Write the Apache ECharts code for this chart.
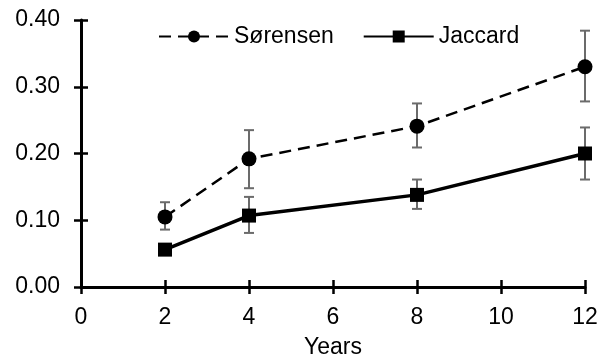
<!DOCTYPE html>
<html lang="en">
<head>
    <meta charset="UTF-8">
    <title>Sørensen / Jaccard</title>
    <style>
        html, body {
            margin: 0;
            padding: 0;
            background: #fff;
        }

        #main {
            width: 599px;
            height: 359px;
        }
    </style>
</head>
<body>
<div id="main"></div>
<script src="https://cdn.jsdelivr.net/npm/echarts@6/dist/echarts.min.js"></script>
<script>
    var years = [2, 4, 8, 12];
    var sorensen = [0.105, 0.192, 0.241, 0.330];
    var sorensenLow = [0.086, 0.148, 0.209, 0.278];
    var sorensenHigh = [0.127, 0.235, 0.275, 0.384];
    var jaccard = [0.056, 0.107, 0.138, 0.200];
    var jaccardLow = [0.049, 0.081, 0.117, 0.161];
    var jaccardHigh = [0.063, 0.135, 0.161, 0.239];
    var yTicks = [0, 0.1, 0.2, 0.3, 0.4];

    var font = '"Liberation Sans", Arial, sans-serif';

    var pairs = function (xs, ys) {
        return xs.map(function (x, i) {
            return [x, ys[i]];
        });
    };
    var bars = function (xs, lo, hi) {
        return xs.map(function (x, i) {
            return [x, lo[i], hi[i]];
        });
    };

    // vertical error bar with caps
    var errorItem = function (params, api) {
        var x = api.value(0);
        var top = api.coord([x, api.value(2)]);
        var bot = api.coord([x, api.value(1)]);
        var cap = 5;
        var style = {stroke: '#6b6b6b', lineWidth: 2};
        return {
            type: 'group',
            children: [
                {type: 'line', shape: {x1: top[0], y1: top[1], x2: bot[0], y2: bot[1]}, style: style},
                {type: 'line', shape: {x1: top[0] - cap, y1: top[1], x2: top[0] + cap, y2: top[1]}, style: style},
                {type: 'line', shape: {x1: bot[0] - cap, y1: bot[1], x2: bot[0] + cap, y2: bot[1]}, style: style}
            ]
        };
    };

    var tickStyle = {color: '#000', width: 2.5};

    var option = {
        animation: false,
        textStyle: {fontFamily: font},
        grid: {left: 81, right: 14, top: 20, bottom: 72, outerBoundsMode: 'none', containLabel: false},
        legend: {
            data: ['Sørensen', 'Jaccard'],
            left: 153,
            top: 20,
            itemWidth: 70,
            itemHeight: 15,
            itemGap: 29,
            textStyle: {fontSize: 23, color: '#000', fontFamily: font}
        },
        xAxis: [{
            type: 'value',
            min: 0,
            max: 12,
            interval: 2,
            name: 'Years',
            nameLocation: 'middle',
            nameGap: 49,
            nameTextStyle: {fontSize: 23, color: '#000', fontFamily: font},
            splitLine: {show: false},
            axisLine: {lineStyle: {color: '#000', width: 3}},
            axisTick: {length: 7, lineStyle: tickStyle},
            axisLabel: {fontSize: 23, color: '#000', margin: 19, fontFamily: font}
        }, {
            type: 'value',
            min: 0,
            max: 12,
            interval: 2,
            position: 'bottom',
            splitLine: {show: false},
            axisLine: {show: false},
            axisTick: {inside: true, length: 7, lineStyle: tickStyle},
            axisLabel: {show: false}
        }],
        yAxis: [{
            type: 'value',
            min: yTicks[0],
            max: yTicks[yTicks.length - 1],
            interval: 0.1,
            splitLine: {show: false},
            axisLine: {show: true, lineStyle: {color: '#000', width: 3}},
            axisTick: {show: true, length: 7, lineStyle: tickStyle},
            axisLabel: {
                fontSize: 23, color: '#000', margin: 21, fontFamily: font,
                formatter: function (v) {
                    return v.toFixed(2);
                }
            }
        }, {
            type: 'value',
            min: yTicks[0],
            max: yTicks[yTicks.length - 1],
            interval: 0.1,
            position: 'left',
            splitLine: {show: false},
            axisLine: {show: false},
            axisTick: {show: true, inside: true, length: 7, lineStyle: tickStyle},
            axisLabel: {show: false}
        }],
        series: [
            {
                name: 'errS',
                type: 'custom',
                renderItem: errorItem,
                data: bars(years, sorensenLow, sorensenHigh),
                z: 1
            },
            {
                name: 'errJ',
                type: 'custom',
                renderItem: errorItem,
                data: bars(years, jaccardLow, jaccardHigh),
                z: 1
            },
            {
                name: 'Sørensen',
                type: 'line',
                data: pairs(years, sorensen),
                symbol: 'circle',
                symbolSize: 15,
                itemStyle: {color: '#000'},
                lineStyle: {color: '#000', width: 2.5, type: [12, 7]},
                z: 3
            },
            {
                name: 'Jaccard',
                type: 'line',
                data: pairs(years, jaccard),
                symbol: 'rect',
                symbolSize: 14,
                itemStyle: {color: '#000'},
                lineStyle: {color: '#000', width: 3.5},
                z: 3
            }
        ]
    };

    var myChart = echarts.init(document.getElementById('main'));
    myChart.setOption(option);
</script>
</body>
</html>
